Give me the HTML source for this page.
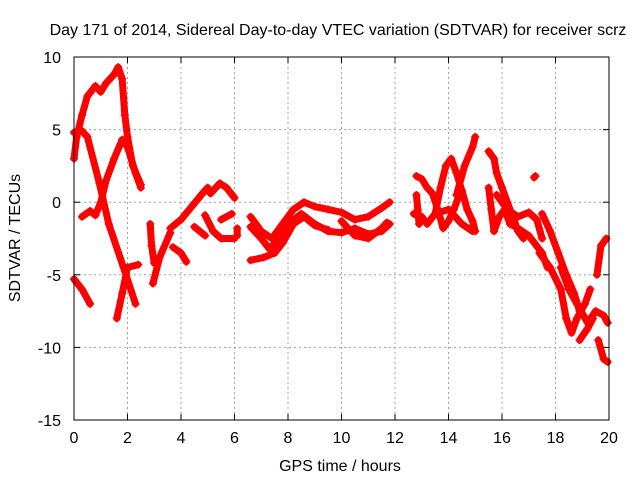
<!DOCTYPE html>
<html><head><meta charset="utf-8"><style>
body{margin:0;background:#fff}
svg text{font-family:"Liberation Sans",sans-serif;font-size:16px;fill:#000}
</style></head><body>
<svg id="c" width="640" height="480">
<text x="338" y="35" text-anchor="middle">Day 171 of 2014, Sidereal Day-to-day VTEC variation (SDTVAR) for receiver scrz</text>
<text x="340" y="471" text-anchor="middle">GPS time / hours</text>
<text transform="translate(20,238) rotate(-90)" text-anchor="middle">SDTVAR / TECUs</text>
<g id="grid"></g><g id="marks"></g>
<rect x="74" y="57" width="535" height="363" fill="none" stroke="#000" stroke-width="1"/>
</svg>
<script>
const xTicks=[0,2,4,6,8,10,12,14,16,18,20];
const yTicks=[-15,-10,-5,0,5,10];
const tracks=[
[[0,3],[0.1,4.5],[0.3,6],[0.5,7.3],[0.8,8],[1.0,7.6],[1.2,8.2],[1.5,8.8],[1.65,9.3],[1.8,8.5],[1.9,6],[2.0,4.5],[2.2,2.5],[2.5,1.2]],
[[0,-5.3],[0.3,-6],[0.6,-7]],
[[0,4.8],[0.3,4.9],[0.5,4.5],[0.95,1.3],[1.3,-1.5],[1.85,-4.5],[2.3,-7]],
[[0.3,-1],[0.6,-0.6],[0.8,-0.9],[1.0,0],[1.2,1.5],[1.5,3],[1.8,4.3],[2.0,3.8],[2.3,2],[2.5,1]],
[[1.6,-8],[1.8,-6.3],[2.0,-4.5],[2.4,-4.3]],
[[2.95,-5.6],[3.2,-3.8],[3.6,-2.1]],
[[2.85,-1.5],[2.9,-3],[3.0,-4.2]],
[[3.7,-3.1],[4.0,-3.5],[4.2,-4.1]],
[[3.6,-1.8],[4.0,-1.2],[4.4,-0.3],[4.8,0.6],[5.0,1.0]],
[[5.1,0.6],[5.45,1.3],[5.7,1.0],[6.0,0.3]],
[[4.9,-0.9],[5.2,-2],[5.5,-2.5],[6.0,-2.5]],
[[4.5,-1.7],[4.9,-2.3]],
[[5.5,-1.2],[5.9,-0.8]],
[[6.1,-1.8],[6.1,-2.3]],
[[6.6,-1],[7.0,-2],[7.4,-2.5],[7.8,-1.5],[8.2,-0.5],[8.6,0],[9.0,-0.3],[9.5,-0.5],[10.0,-0.7],[10.5,-1.2],[11.0,-1],[11.5,-0.4],[11.8,0]],
[[6.6,-1.7],[7.0,-2.5],[7.3,-3.2],[7.7,-2.5],[8.0,-1.5],[8.5,-0.8],[9.0,-1.5],[9.5,-2],[10.0,-2.1],[10.5,-1.8],[11.0,-2.2],[11.5,-2],[11.8,-1.5]],
[[6.6,-4],[7.1,-3.8],[7.5,-3.5],[7.8,-2.8],[8.2,-1.5],[8.6,-1.0],[9.0,-1.6],[9.5,-1.9]],
[[10.0,-1.3],[10.5,-2.3],[11.0,-2.5],[11.5,-1.8],[11.7,-1.4]],
[[12.8,1.8],[13.0,1.6],[13.2,1.0],[13.4,0.6],[13.6,-0.5],[13.8,-1.8],[14.0,-1.3],[14.2,-0.5],[14.4,0.5]],
[[13.5,-0.8],[13.7,1],[13.9,2.5],[14.1,3.0],[14.3,2.0],[14.5,0.8],[14.7,-0.5],[14.9,-1.3],[15.0,-2.0]],
[[14.3,0.5],[14.6,2.5],[14.9,3.8],[15.0,4.5]],
[[12.7,-0.8],[13.0,-1.0],[13.2,-1.5],[13.5,-0.8],[14.0,-0.5],[14.5,-1.5],[14.9,-2.0]],
[[12.8,0.5],[12.85,-0.5],[12.9,-1.5]],
[[15.5,3.5],[15.7,3],[15.8,2],[16.0,1],[16.2,0],[16.4,-1],[16.6,-2],[16.8,-2.5]],
[[15.5,1.0],[15.6,-0.5],[15.7,-2.0],[15.9,-1],[16.1,-0.5],[16.3,-1.5],[16.6,-1.8],[17,-2.3],[17.5,-3.5],[17.7,-4.5]],
[[15.8,0.5],[16.2,-0.5],[16.6,-1],[17.0,-0.7],[17.3,-1.2],[17.5,-2.5]],
[[17.2,1.7],[17.25,1.8]],
[[17.5,-0.8],[17.8,-2],[18.1,-3.5],[18.4,-5],[18.7,-6.3],[18.9,-7.5]],
[[17.4,-3.5],[17.8,-4.5],[18.2,-6],[18.4,-8],[18.6,-9],[18.8,-8],[19.1,-7],[19.3,-6]],
[[18.2,-4.5],[18.5,-6],[18.8,-7],[19.2,-8.3],[19.5,-7.5],[19.8,-7.8],[19.95,-8.3]],
[[18.9,-9.5],[19.2,-8.7],[19.4,-8]],
[[19.55,-5],[19.7,-3],[19.9,-2.5]],
[[19.6,-9.5],[19.8,-10.8],[19.95,-11]]
];
const NS='http://www.w3.org/2000/svg';
function X(h){return 74+h*(535/20);}
function Y(v){return 57+(10-v)*(363/25);}
const grid=document.getElementById('grid'),marks=document.getElementById('marks');
function mk(t,a,p){const e=document.createElementNS(NS,t);for(const k in a)e.setAttribute(k,a[k]);p.appendChild(e);return e;}
xTicks.forEach(t=>{
  const l=mk('line',{x1:X(t),x2:X(t),y1:57,y2:420,stroke:'#a0a0a0','stroke-dasharray':'2,3'},grid);
  
  
  mk('line',{x1:X(t),x2:X(t),y1:420,y2:414,stroke:'#000'},grid);
  mk('line',{x1:X(t),x2:X(t),y1:57,y2:63,stroke:'#000'},grid);
  const tx=mk('text',{x:X(t),y:443,'text-anchor':'middle'},grid);tx.textContent=t;
  
  
});
yTicks.forEach(t=>{
  const l=mk('line',{x1:74,x2:609,y1:Y(t),y2:Y(t),stroke:'#a0a0a0','stroke-dasharray':'2,3'},grid);
  
  
  mk('line',{x1:74,x2:80,y1:Y(t),y2:Y(t),stroke:'#000'},grid);
  mk('line',{x1:603,x2:609,y1:Y(t),y2:Y(t),stroke:'#000'},grid);
  const tx=mk('text',{x:61,y:Y(t)+6,'text-anchor':'end'},grid);tx.textContent=t;
  
  
});
tracks.forEach(tr=>{
  const pts=tr.map(p=>X(p[0])+','+Y(p[1])).join(' ');
  const pl=mk('polyline',{points:pts,fill:'none',stroke:'#ff0000','stroke-width':7,'stroke-linejoin':'round','stroke-linecap':'round'},marks);
  
  
  tr.forEach(p=>{
    const x=X(p[0]),y=Y(p[1]);
    const m=mk('path',{d:`M${x-4},${y}H${x+4}M${x},${y-4}V${y+4}`,stroke:'#ff0000','stroke-width':1.5},marks);
    
    
  });
});
</script>
</body></html>
